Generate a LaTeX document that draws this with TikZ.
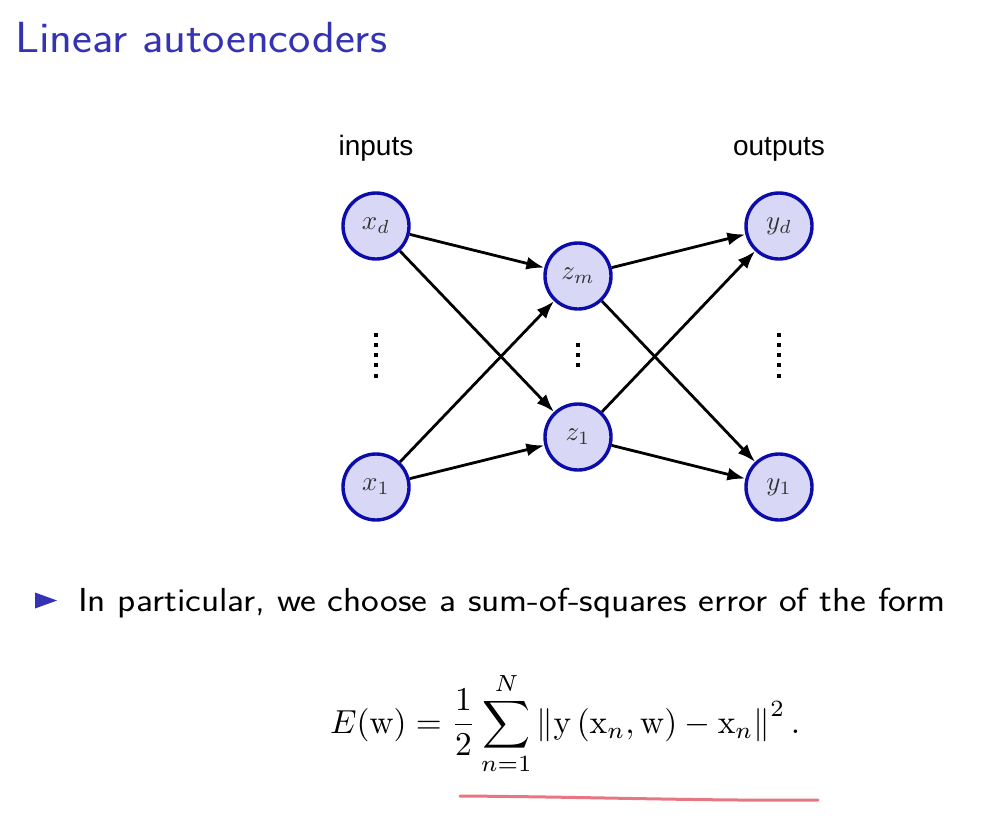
\documentclass[tikz,border=0pt]{standalone}
\usepackage{fontspec}
\newfontfamily\arialfont{Liberation Sans}
\usetikzlibrary{arrows.meta}
\definecolor{titleblue}{RGB}{51,51,179}
\definecolor{nodefill}{RGB}{216,216,246}
\definecolor{nodeborder}{RGB}{12,12,170}
\definecolor{annot}{RGB}{232,118,130}
\newcommand{\nlabel}[1]{\scalebox{2.7}{$#1$}}
\begin{document}
\begin{tikzpicture}[x=1pt,y=-1pt,
  neuron/.style={circle, draw=nodeborder, fill=nodefill, line width=3.4pt, minimum size=66pt, inner sep=0pt, text=black!80},
  conn/.style={-{Latex[length=18pt,width=13pt]}, line width=2.8pt, black},
  lbl/.style={font=\arialfont\fontsize{28}{32}\selectfont, anchor=base, inner sep=0pt},
  dotmark/.style={fill=black}]
\useasboundingbox (0,0) rectangle (1000,822);
% title
\node[anchor=base west, inner sep=0pt, text=titleblue, font=\sffamily\fontsize{43.6}{52}\selectfont] (title) at (15,52) {\scalebox{1.085}[1]{Linear autoencoders}};
% labels
\node[lbl] (inputs) at (376,155) {inputs};
\node[lbl] (outputs) at (779,155) {outputs};
% neurons
\node[neuron] (xd) at (376,226) {\nlabel{x_d}};
\node[neuron] (x1) at (376,487) {\nlabel{x_1}};
\node[neuron] (zm) at (578,276) {\nlabel{z_m}};
\node[neuron] (z1) at (578,437) {\nlabel{z_1}};
\node[neuron] (yd) at (779,226) {\nlabel{y_d}};
\node[neuron] (y1) at (779,487) {\nlabel{y_1}};
% connectors
\draw[conn] (xd) -- (zm);
\draw[conn] (xd) -- (z1);
\draw[conn] (x1) -- (zm);
\draw[conn] (x1) -- (z1);
\draw[conn] (zm) -- (yd);
\draw[conn] (zm) -- (y1);
\draw[conn] (z1) -- (yd);
\draw[conn] (z1) -- (y1);
% dots
\foreach \yy in {335,345,355,365,376} {
  \fill[dotmark] (374.2,\yy-1.8) rectangle ++(3.6,3.6);
  \fill[dotmark] (777.2,\yy-1.8) rectangle ++(3.6,3.6);
}
\foreach \yy in {345,355,365} {
  \fill[dotmark] (576.2,\yy-1.8) rectangle ++(3.6,3.6);
}
% bullet
\fill[titleblue] (35,592.5) -- (57,600.5) -- (35,608.5) -- cycle;
\node[anchor=base west, inner sep=0pt, font=\sffamily\fontsize{33.3}{40}\selectfont] (item) at (78,611.7) {\scalebox{1.13}[1]{In particular, we choose a sum-of-squares error of the form}};
% equation
\node[anchor=base west, inner sep=0pt] (eq) at (330,733) {\scalebox{3.33}{$\displaystyle E(\mathrm{w}) = \frac{1}{2}\sum_{n=1}^{N} \left\|\mathrm{y}\left(\mathrm{x}_n, \mathrm{w}\right) - \mathrm{x}_n\right\|^2 .$}};
% annotation underline
\draw[annot, line width=3pt, line cap=round] (460,796) .. controls (600,797) and (700,801) .. (818,800);
\end{tikzpicture}
\end{document}
